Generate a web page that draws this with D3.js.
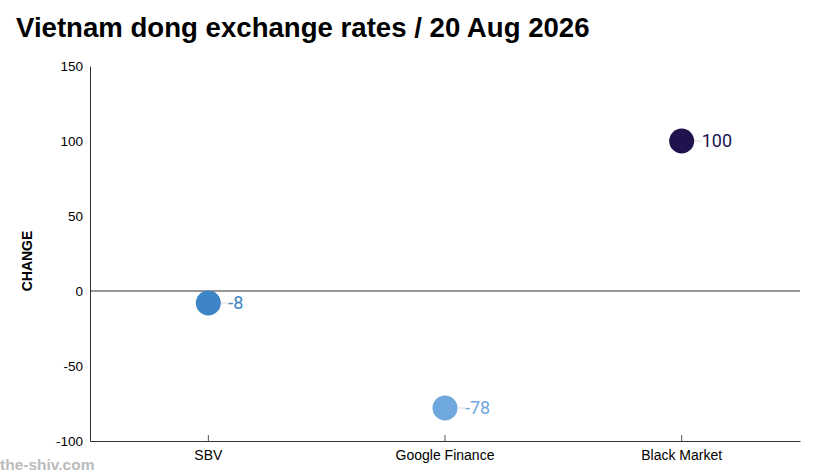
<!DOCTYPE html>
<html>
<head>
<meta charset="utf-8">
<script src="https://cdn.jsdelivr.net/npm/d3@7"></script>
<style>
  body { margin: 0; background: #fff; }
  svg { display: block; }
</style>
</head>
<body>
<div id="chart"></div>
<script>
// data
var sources = ["SBV", "Google Finance", "Black Market"];
var changes = [-8, -78, 100];
var dotColors = ["#3d85c6", "#6fa8dc", "#20124d"];
var yTicks = [-100, -50, 0, 50, 100, 150];

var W = 823, H = 476;
var margin = {top: 66, right: 23, bottom: 35, left: 90},
    width = W - margin.left - margin.right,
    height = H - margin.top - margin.bottom;

// plain hyphen for negatives, like the reference
var fmt = function(v) { return String(v); };

var svg = d3.select("#chart")
  .append("svg")
  .attr("width", W)
  .attr("height", H);

// title
svg.append("text")
  .attr("x", 16)
  .attr("y", 37)
  .style("font-family", "Liberation Sans, Arial, sans-serif")
  .style("font-weight", "bold")
  .style("font-size", "27.6px")
  .style("fill", "#000")
  .text("Vietnam dong exchange rates / 20 Aug 2026");

// watermark
svg.append("text")
  .attr("x", 0)
  .attr("y", 470)
  .style("font-family", "Liberation Sans, Arial, sans-serif")
  .style("font-weight", "bold")
  .style("font-size", "15.5px")
  .style("fill", "#bbb")
  .text("the-shiv.com");

var g = svg.append("g")
  .attr("transform", "translate(" + margin.left + "," + margin.top + ")");

var x = d3.scaleBand()
  .domain(sources)
  .range([0, width]);

var y = d3.scaleLinear()
  .domain([-100, 150])
  .range([height, 0]);

// y axis (no tick marks)
var yAxis = g.append("g")
  .call(d3.axisLeft(y).tickValues(yTicks).tickFormat(fmt).tickSize(0).tickPadding(7));
yAxis.select(".domain").attr("stroke", "#333");
yAxis.selectAll("text")
  .style("font-family", "Liberation Sans, Arial, sans-serif")
  .style("font-size", "13.5px")
  .style("fill", "#000");

// x axis, ticks pointing up
var xAxis = g.append("g")
  .attr("transform", "translate(0," + height + ")")
  .call(d3.axisBottom(x).tickSizeInner(-6).tickSizeOuter(0).tickPadding(10));
xAxis.select(".domain").attr("stroke", "#333");
xAxis.selectAll(".tick line").attr("stroke", "#555");
xAxis.selectAll("text")
  .attr("dy", "0.71em")
  .attr("y", 9)
  .style("font-family", "Liberation Sans, Arial, sans-serif")
  .style("font-size", "14px")
  .style("fill", "#000");

// zero line
g.append("line")
  .attr("x1", 0)
  .attr("x2", width)
  .attr("y1", y(0))
  .attr("y2", y(0))
  .attr("stroke", "#333")
  .attr("stroke-width", 1);

// axis title
svg.append("text")
  .attr("transform", "translate(32,261) rotate(-90)")
  .attr("text-anchor", "middle")
  .style("font-family", "Liberation Sans, Arial, sans-serif")
  .style("font-weight", "bold")
  .style("font-size", "14px")
  .style("fill", "#000")
  .text("CHANGE");

var points = sources.map(function(s, i) {
  return {name: s, value: changes[i], color: dotColors[i]};
});

// faint connector from dot to label
g.selectAll("myLinks")
  .data(points)
  .enter()
  .append("line")
    .attr("x1", function(d) { return x(d.name) + x.bandwidth() / 2 + 12; })
    .attr("x2", function(d) { return x(d.name) + x.bandwidth() / 2 + 20; })
    .attr("y1", function(d) { return y(d.value); })
    .attr("y2", function(d) { return y(d.value); })
    .attr("stroke", "#e6e6e6")
    .attr("stroke-width", 1.5);

// dots
g.selectAll("myDots")
  .data(points)
  .enter()
  .append("circle")
    .attr("cx", function(d) { return x(d.name) + x.bandwidth() / 2; })
    .attr("cy", function(d) { return y(d.value); })
    .attr("r", 12.5)
    .style("fill", function(d) { return d.color; });

// value labels
g.selectAll("myLabels")
  .data(points)
  .enter()
  .append("text")
    .attr("x", function(d) { return x(d.name) + x.bandwidth() / 2 + 20; })
    .attr("y", function(d) { return y(d.value); })
    .attr("dy", "0.35em")
    .style("font-family", "Roboto, sans-serif")
    .style("font-size", "18px")
    .style("fill", function(d) { return d.color; })
    .text(function(d) { return fmt(d.value); });
</script>
</body>
</html>
